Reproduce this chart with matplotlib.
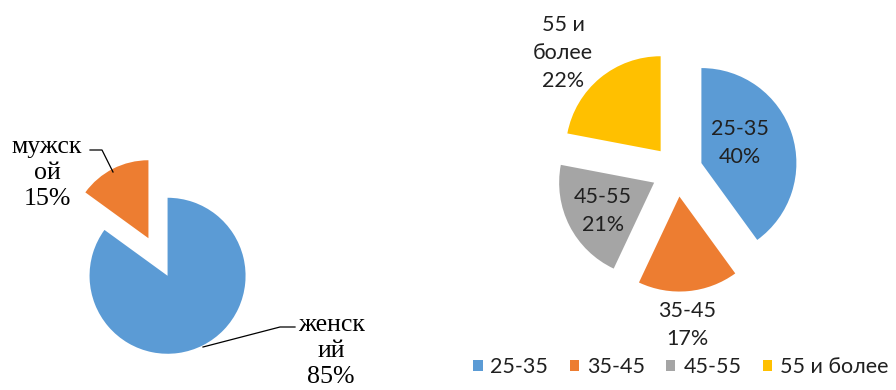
import matplotlib
matplotlib.use('Agg')
from matplotlib import pyplot as pl

# respondents by sex
sex_names = ['женск\nий', 'мужск\nой']
sex_share = [85, 15]

# respondents by age group
age_names = ['25-35', '35-45', '45-55', '55 и более']
age_text = ['25-35', '35-45', '45-55', '55 и\nболее']
age_share = [40, 17, 21, 22]

blue = '#5B9BD5'
orange = '#ED7D31'
grey = '#A5A5A5'
gold = '#FFC000'

W, H = 896, 390
fig = pl.figure(figsize=(W / 100, H / 100), dpi=100)
ax = fig.add_axes([0, 0, 1, 1])

serif = dict(family='Liberation Serif', fontsize=18.6, color='black',
             ha='center', va='center', linespacing=1.25)
sans = dict(family='Lato', fontsize=15.5, color='#202020',
            ha='center', va='center', linespacing=1.53)

# left pie - sex (explode is in data units here, i.e. pixels)
r1 = 78
ax.pie(sex_share, colors=[blue, orange], startangle=90, counterclock=False,
       explode=[0.27 * r1] * 2, center=(158, H - 257), radius=r1,
       wedgeprops=dict(linewidth=0))

# right pie - age
r2 = 95
wedges, _ = ax.pie(age_share, colors=[blue, orange, grey, gold], startangle=90,
                   counterclock=False, explode=[0.27 * r2] * 4,
                   center=(677, H - 171), radius=r2,
                   wedgeprops=dict(linewidth=0))

# pie() resets the limits, so fix the canvas afterwards
ax.set_xlim(0, W)
ax.set_ylim(0, H)
ax.set_aspect('equal')
ax.axis('off')

ax.text(47, H - 173, '%s\n%d%%' % (sex_names[1], sex_share[1]), **serif)
ax.plot([90, 102, 113], [H - 150, H - 150, H - 172], color='black', lw=0.9)

ax.text(331, H - 351, '%s\n%d%%' % (sex_names[0], sex_share[0]), **serif)
ax.plot([295, 280, 203], [H - 327, H - 327, H - 347], color='black', lw=0.9)

age_pos = [(740, 143), (687, 325), (603, 211), (563, 53)]
for t, v, (x, y) in zip(age_text, age_share, age_pos):
    ax.text(x, H - y, '%s\n%d%%' % (t, v), **sans)

fig.legend(wedges, age_names, loc='center', ncol=4, frameon=False,
           bbox_to_anchor=(0.760, 0.059), handlelength=0.42, handleheight=0.42,
           handletextpad=0.37, columnspacing=1.0,
           prop=dict(family='Lato', size=15.5))
for t in fig.legends[0].get_texts():
    t.set_color('#202020')

fig.savefig('out.png', dpi=100)
